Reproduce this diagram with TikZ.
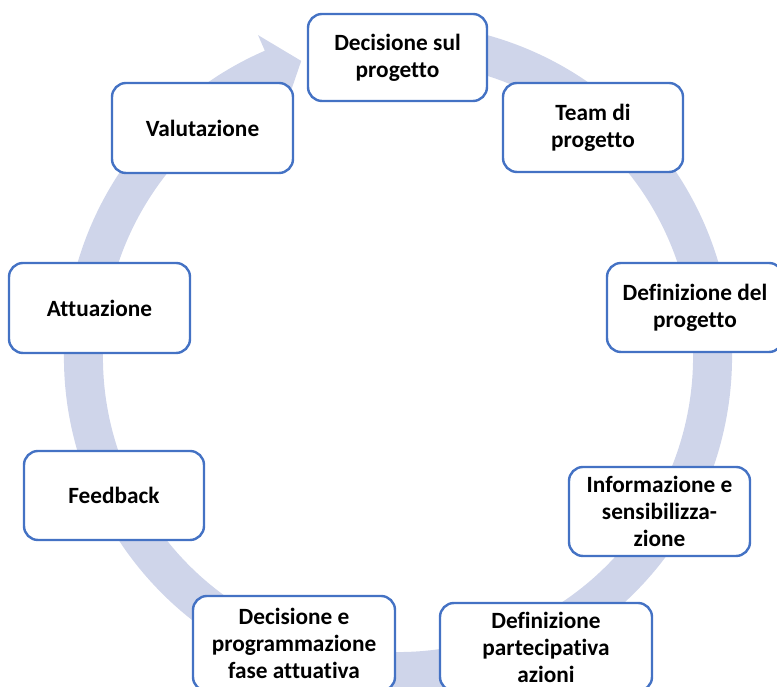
\documentclass[tikz,border=0pt]{standalone}
\usepackage{fontspec}
\setmainfont{Carlito}[Ligatures=NoCommon]
\definecolor{ringcol}{RGB}{207,213,234}
\definecolor{boxline}{RGB}{68,114,196}
\begin{document}
\begin{tikzpicture}[x=1pt,y=1pt,
  stepbox/.style={draw=boxline, line width=2.4pt, fill=white, rounded corners=14pt,
    align=center, inner sep=2pt,
    font=\fontsize{23.3}{27}\selectfont\bfseries}]
\useasboundingbox (0,0) rectangle (777,687);
\begin{scope}
\clip (0,0) rectangle (777,687);
\begin{scope}[shift={(398,330)}]
\fill[ringcol] (80:334) arc[start angle=80, end angle=-246.5, radius=334]
  -- (-246.5:351) -- (-251.9:311.5) -- (-246.5:278) -- (-246.5:295)
  arc[start angle=-246.5, end angle=80, radius=295] -- cycle;
\end{scope}
\node[stepbox, minimum width=179, minimum height=87] (n1) at (397.5,629.5) {Decisione sul\\progetto};
\node[stepbox, minimum width=180, minimum height=89] (n2) at (593,559.5) {Team di\\progetto};
\node[stepbox, minimum width=176, minimum height=89] (n3) at (695,379.5) {Definizione del\\progetto};
\node[stepbox, minimum width=181, minimum height=89] (n4) at (659.5,175.5) {Informazione e\\sensibilizza-\\zione};
\node[stepbox, minimum width=212, minimum height=88] (n5) at (546,40) {Definizione\\partecipativa\\azioni};
\node[stepbox, minimum width=202, minimum height=95] (n6) at (294,43.5) {Decisione e\\programmazione\\fase attuativa};
\node[stepbox, minimum width=180, minimum height=89] (n7) at (114,191.5) {Feedback};
\node[stepbox, minimum width=181, minimum height=90] (n8) at (99.5,379) {Attuazione};
\node[stepbox, minimum width=181, minimum height=90] (n9) at (202.5,559) {Valutazione};
\end{scope}
\end{tikzpicture}
\end{document}
